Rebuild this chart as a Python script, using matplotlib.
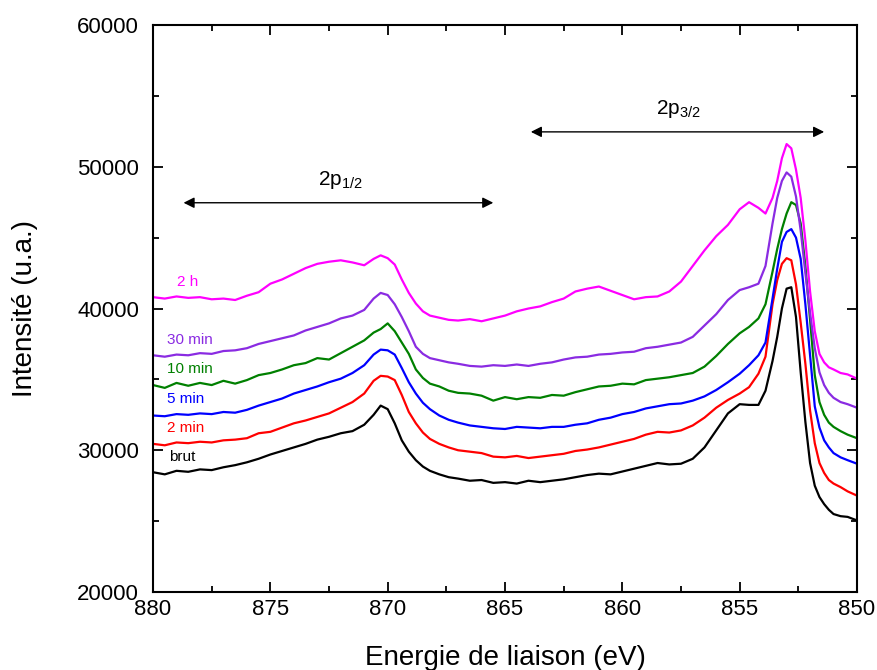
import matplotlib
matplotlib.use("Agg")
import matplotlib.pyplot as plt
from matplotlib.ticker import MultipleLocator

plt.rcParams['font.family'] = ['Liberation Sans', 'DejaVu Sans']
plt.rcParams['mathtext.default'] = 'regular'

# binding energy grid (eV)
energy = [880.0, 879.5, 879.0, 878.5, 878.0, 877.5, 877.0, 876.5, 876.0, 875.5,
          875.0, 874.5, 874.0, 873.5, 873.0, 872.5, 872.0, 871.5, 871.0, 870.6,
          870.3, 870.0, 869.7, 869.4, 869.1, 868.8, 868.5, 868.2, 867.8, 867.4,
          867.0, 866.5, 866.0, 865.5, 865.0, 864.5, 864.0, 863.5, 863.0, 862.5,
          862.0, 861.5, 861.0, 860.5, 860.0, 859.5, 859.0, 858.5, 858.0, 857.5,
          857.0, 856.5, 856.0, 855.5, 855.0, 854.6, 854.2, 853.9, 853.6, 853.4,
          853.2, 853.0, 852.8, 852.6, 852.4, 852.2, 852.0, 851.8, 851.6, 851.4,
          851.2, 851.0, 850.7, 850.4, 850.0]

brut = [28450, 28300, 28550, 28480, 28650, 28600, 28800, 28950, 29150, 29400,
        29700, 29950, 30200, 30450, 30750, 30950, 31200, 31350, 31800, 32500,
        33150, 32900, 31900, 30700, 29900, 29300, 28850, 28550, 28300, 28100,
        28000, 27850, 27900, 27700, 27750, 27650, 27850, 27750, 27850, 27950,
        28100, 28250, 28350, 28300, 28500, 28700, 28900, 29100, 29000, 29050,
        29400, 30200, 31400, 32600, 33250, 33200, 33200, 34200, 36300, 38000,
        40000, 41400, 41500, 39400, 35500, 32000, 29100, 27500, 26700, 26200,
        25800, 25500, 25350, 25300, 25050]

min2 = [30450, 30350, 30550, 30500, 30600, 30550, 30700, 30750, 30850, 31200,
        31300, 31600, 31900, 32100, 32350, 32600, 33000, 33400, 34000, 34900,
        35250, 35200, 34950, 33900, 32700, 31900, 31250, 30800, 30450, 30200,
        30000, 29900, 29800, 29550, 29500, 29600, 29450, 29550, 29650, 29750,
        29950, 30050, 30200, 30400, 30600, 30800, 31100, 31300, 31250, 31400,
        31750, 32300, 33000, 33550, 34000, 34450, 35400, 36600, 40300, 42000,
        43150, 43550, 43400, 41700, 39000, 36100, 32800, 30500, 29100, 28400,
        27900, 27650, 27400, 27100, 26800]

min5 = [32450, 32400, 32550, 32500, 32600, 32550, 32700, 32650, 32850, 33150,
        33400, 33650, 34000, 34250, 34500, 34800, 35050, 35450, 36000, 36750,
        37100, 37050, 36750, 35800, 34800, 34000, 33350, 32900, 32450, 32150,
        31950, 31750, 31650, 31550, 31500, 31650, 31600, 31550, 31650, 31650,
        31800, 31900, 32150, 32300, 32550, 32700, 32950, 33100, 33250, 33300,
        33500, 33800, 34250, 34800, 35400, 36000, 36700, 37600, 40700, 42800,
        44700, 45400, 45600, 45000, 43500, 40300, 36700, 33100, 31600, 30700,
        30200, 29800, 29500, 29300, 29050]

min10 = [34600, 34400, 34750, 34550, 34750, 34600, 34900, 34700, 34950, 35300,
         35450, 35700, 36000, 36150, 36500, 36400, 36850, 37300, 37750, 38300,
         38550, 38950, 38400, 37600, 36800, 35700, 35100, 34700, 34500, 34200,
         34050, 34000, 33850, 33500, 33750, 33600, 33750, 33700, 33900, 33850,
         34100, 34300, 34500, 34550, 34700, 34650, 34950, 35050, 35150, 35300,
         35450, 35900, 36650, 37500, 38250, 38700, 39300, 40300, 42600, 44200,
         45600, 46700, 47500, 47300, 46000, 43000, 39200, 35300, 33400, 32500,
         31950, 31650, 31350, 31100, 30850]

min30 = [36700, 36600, 36750, 36700, 36850, 36800, 37000, 37050, 37200, 37500,
         37700, 37900, 38100, 38450, 38700, 38950, 39300, 39500, 39900, 40700,
         41100, 40950, 40300, 39400, 38400, 37300, 36800, 36500, 36350, 36200,
         36100, 35950, 35900, 36000, 35950, 36050, 35950, 36100, 36200, 36400,
         36550, 36600, 36750, 36800, 36900, 36950, 37200, 37300, 37450, 37600,
         38000, 38800, 39600, 40600, 41300, 41500, 41750, 43000, 46000, 47800,
         49000, 49600, 49300, 47900, 45500, 42500, 39700, 37200, 35500, 34600,
         34050, 33700, 33400, 33250, 33000]

h2 = [40800, 40700, 40850, 40750, 40800, 40650, 40700, 40600, 40900, 41150,
      41750, 42050, 42450, 42850, 43150, 43300, 43400, 43250, 43050, 43500,
      43750, 43550, 43100, 42050, 41100, 40350, 39800, 39500, 39350, 39200,
      39150, 39250, 39100, 39300, 39500, 39800, 40000, 40150, 40450, 40700,
      41200, 41400, 41550, 41250, 40950, 40650, 40800, 40850, 41200, 41900,
      43000, 44100, 45100, 45900, 47000, 47500, 47100, 46700, 47800, 49000,
      50600, 51600, 51300, 49800, 47800, 44800, 41200, 38400, 36800, 36200,
      35850, 35700, 35450, 35350, 35050]

series = [brut, min2, min5, min10, min30, h2]
labels = ['brut', '2 min', '5 min', '10 min', '30 min', '2 h']
colors = ['black', '#ff0000', '#0000ff', '#008000', '#8a2be2', '#ff00ff']
label_x = [879.3, 879.4, 879.4, 879.4, 879.4, 879.0]
label_y = [29500, 31550, 33600, 35700, 37750, 41850]

fig = plt.figure(figsize=(8.77, 6.70), dpi=100)
ax = fig.add_axes([0.1745, 0.1164, 0.8027, 0.8463])

for ys, c in zip(series, colors):
    ax.plot(energy, ys, color=c, lw=1.6)

for lab, c, lx, ly in zip(labels, colors, label_x, label_y):
    ax.text(lx, ly, lab, color=c, fontsize=11, ha='left', va='center')

# spin-orbit components
ax.annotate('', xy=(865.5, 47460), xytext=(878.7, 47460),
            arrowprops=dict(arrowstyle='<|-|>', color='black', lw=1,
                            mutation_scale=16, shrinkA=0, shrinkB=0))
ax.text(872.0, 49100, r'2p$_{1/2}$', fontsize=15, ha='center', va='center')
ax.annotate('', xy=(851.4, 52460), xytext=(863.9, 52460),
            arrowprops=dict(arrowstyle='<|-|>', color='black', lw=1,
                            mutation_scale=16, shrinkA=0, shrinkB=0))
ax.text(857.6, 54100, r'2p$_{3/2}$', fontsize=15, ha='center', va='center')

ax.set_xlim(880, 850)
ax.set_ylim(20000, 60000)
ax.xaxis.set_major_locator(MultipleLocator(5))
ax.xaxis.set_minor_locator(MultipleLocator(2.5))
ax.yaxis.set_major_locator(MultipleLocator(10000))
ax.yaxis.set_minor_locator(MultipleLocator(5000))
ax.tick_params(which='both', direction='in', top=True, right=True, width=1.3)
ax.tick_params(which='major', length=7)
ax.tick_params(which='minor', length=4)
ax.tick_params(axis='x', labelsize=16, pad=5)
ax.tick_params(axis='y', labelsize=16, pad=10)
for sp in ax.spines.values():
    sp.set_linewidth(1.5)

ax.set_xlabel('Energie de liaison (eV)', fontsize=20, labelpad=18)
ax.set_ylabel('Intensité (u.a.)', fontsize=20, labelpad=28)

fig.savefig('out.png', dpi=100)
